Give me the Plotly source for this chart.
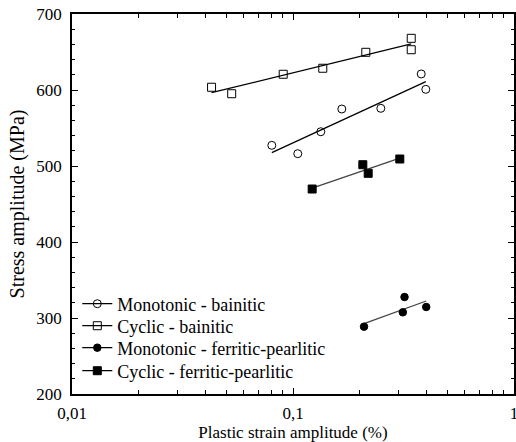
import numpy as np
import plotly.graph_objects as go

# ---- data ----
mono_bain_x = [0.0802, 0.1051, 0.1336, 0.1663, 0.2497, 0.3803, 0.3990]
mono_bain_y = [527.2, 516.2, 545.1, 575.0, 575.9, 621.1, 600.9]

cyc_bain_x = [0.0428, 0.0528, 0.0903, 0.1364, 0.2135, 0.3427, 0.3427]
cyc_bain_y = [603.6, 595.1, 620.7, 628.6, 649.6, 668.0, 653.0]

mono_fp_x = [0.2096, 0.3140, 0.3196, 0.4007]
mono_fp_y = [288.6, 307.5, 327.6, 314.5]

cyc_fp_x = [0.1221, 0.2070, 0.2189, 0.3043]
cyc_fp_y = [469.7, 501.7, 490.4, 509.2]

series_names = ["Monotonic - bainitic", "Cyclic - bainitic",
                "Monotonic - ferritic-pearlitic", "Cyclic - ferritic-pearlitic"]

x_tickvals = [0.01, 0.1, 1]
x_ticktext = ["0,01", "0,1", "1"]
y_tickvals = [200, 300, 400, 500, 600, 700]

FONT = "Liberation Serif, Times New Roman, DejaVu Serif, serif"

series = [
    (mono_bain_x, mono_bain_y, "circle-open", 8, "black"),
    (cyc_bain_x, cyc_bain_y, "square-open", 8, "black"),
    (mono_fp_x, mono_fp_y, "circle", 7.5, "#444444"),
    (cyc_fp_x, cyc_fp_y, "square", 8, "#444444"),
]

legend_ids = ["legend", "legend2", "legend3", "legend4"]
legend_ypos = [0.2368, 0.1789, 0.1211, 0.0605]

fig = go.Figure()

for (xs, ys, sym, sz, lc), name, lid in zip(series, series_names, legend_ids):
    xs = np.array(xs)
    ys = np.array(ys)
    # least-squares fit in log10(x)
    b, a = np.polyfit(np.log10(xs), ys, 1)
    fx = np.array([xs.min(), xs.max()])
    fy = a + b * np.log10(fx)
    fig.add_trace(go.Scatter(x=fx, y=fy, mode="lines",
                             line=dict(color=lc, width=1.3),
                             showlegend=False, hoverinfo="skip"))
    fig.add_trace(go.Scatter(x=xs, y=ys, mode="markers",
                             marker=dict(symbol=sym, size=sz, color="black",
                                         line=dict(color="black", width=1)),
                             showlegend=False, name=name))
    # legend entry (line + marker)
    fig.add_trace(go.Scatter(x=[None], y=[None], mode="lines+markers",
                             marker=dict(symbol=sym, size=sz, color="black",
                                         line=dict(color="black", width=1)),
                             line=dict(color="black", width=1.2),
                             name=name, showlegend=True, legend=lid))

minor_x = [m * d for d in (0.01, 0.1) for m in range(2, 10)]

fig.update_xaxes(
    type="log", range=[-2, 0], automargin=False,
    tickmode="array", tickvals=x_tickvals, ticktext=x_ticktext,
    ticks="inside", ticklen=6, tickwidth=1.2, tickcolor="black",
    minor=dict(tickmode="array", tickvals=minor_x, ticks="inside",
               ticklen=4, tickwidth=1, tickcolor="black", showgrid=False),
    showline=True, linecolor="black", linewidth=1.6, mirror="allticks",
    showgrid=False, zeroline=False, ticklabeloverflow="allow",
    tickfont=dict(family=FONT, size=17, color="black"),
    ticklabelstandoff=3,
    title=dict(text="Plastic strain amplitude (%)",
               font=dict(family=FONT, size=17, color="black"), standoff=10),
)
fig.update_yaxes(
    range=[200, 700], automargin=False,
    tickmode="array", tickvals=y_tickvals,
    ticks="inside", ticklen=6, tickwidth=1.2, tickcolor="black",
    minor=dict(dtick=20, tick0=200, ticks="inside", ticklen=3.5,
               tickwidth=1, tickcolor="black", showgrid=False),
    showline=True, linecolor="black", linewidth=1.6, mirror="allticks",
    showgrid=False, zeroline=False, ticklabeloverflow="allow",
    tickfont=dict(family=FONT, size=17, color="black"),
    ticklabelstandoff=5,
    title=dict(text="Stress amplitude (MPa)",
               font=dict(family=FONT, size=20, color="black"), standoff=6),
)

legend_style = dict(xanchor="left", yanchor="middle", x=0.012,
                    bgcolor="rgba(0,0,0,0)", borderwidth=0,
                    font=dict(family=FONT, size=18, color="black"),
                    itemwidth=30)
layout_legends = {lid: dict(y=yp, **legend_style)
                  for lid, yp in zip(legend_ids, legend_ypos)}

fig.update_layout(
    width=516, height=442,
    margin=dict(l=71.5, r=2, t=14, b=48, autoexpand=False),
    paper_bgcolor="white", plot_bgcolor="white",
    font=dict(family=FONT, color="black"),
    showlegend=True,
    **layout_legends,
)

fig.write_html("out.html",
               config={"displayModeBar": False},
               post_script="document.body.style.margin='0';"
                           "document.body.style.overflow='hidden';")
